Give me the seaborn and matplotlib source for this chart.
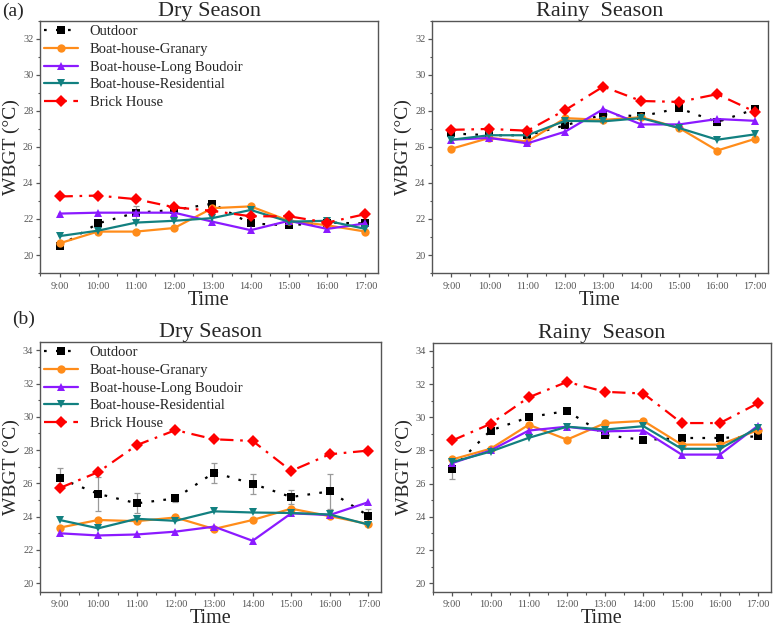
#!/usr/bin/env python3
"""WBGT diurnal profiles, dry vs rainy season, for outdoor and four dwelling types."""

import matplotlib

matplotlib.use("Agg")
import matplotlib.pyplot as plt
from matplotlib.ticker import MultipleLocator
import pandas as pd
import seaborn as sns

hours = [9, 10, 11, 12, 13, 14, 15, 16, 17]
hour_labels = [f"{h}:00" for h in hours]
sites = [
    "Outdoor",
    "Boat-house-Granary",
    "Boat-house-Long Boudoir",
    "Boat-house-Residential",
    "Brick House",
]

# (a) dry season
a_dry_outdoor = [20.5, 21.75, 22.35, 22.5, 22.85, 21.75, 21.65, 21.8, 21.75]
a_dry_granary = [20.65, 21.3, 21.3, 21.5, 22.6, 22.7, 21.9, 21.65, 21.3]
a_dry_boudoir = [22.3, 22.35, 22.35, 22.35, 21.85, 21.38, 21.9, 21.45, 21.75]
a_dry_resid = [21.05, 21.35, 21.8, 21.9, 22.05, 22.5, 21.85, 21.9, 21.45]
a_dry_brick = [23.25, 23.3, 23.1, 22.65, 22.45, 22.15, 22.15, 21.8, 22.27]
a_dry_err = [0.1, 0.15, 0.35, 0.15, 0.1, 0.1, 0.1, 0.1, 0.1]

# (a) rainy season
a_wet_outdoor = [26.75, 26.65, 26.65, 27.2, 27.8, 27.7, 28.15, 27.38, 28.1]
a_wet_granary = [25.9, 26.5, 26.3, 27.6, 27.5, 27.65, 27.05, 25.8, 26.45]
a_wet_boudoir = [26.4, 26.5, 26.2, 26.85, 28.1, 27.25, 27.25, 27.55, 27.45]
a_wet_resid = [26.4, 26.65, 26.65, 27.45, 27.42, 27.6, 27.05, 26.4, 26.7]
a_wet_brick = [26.95, 27.0, 26.9, 28.05, 29.35, 28.55, 28.5, 28.93, 27.95]
a_wet_err = [0.15, 0.1, 0.1, 0.15, 0.2, 0.1, 0.1, 0.15, 0.1]

# (b) dry season
b_dry_outdoor = [26.3, 25.37, 24.8, 25.1, 26.65, 25.98, 25.18, 25.52, 24.05]
b_dry_granary = [23.34, 23.8, 23.73, 23.95, 23.26, 23.8, 24.48, 24.03, 23.56]
b_dry_boudoir = [23.0, 22.87, 22.93, 23.1, 23.4, 22.55, 24.2, 24.1, 24.87]
b_dry_resid = [23.8, 23.3, 23.87, 23.75, 24.32, 24.25, 24.22, 24.13, 23.52]
b_dry_brick = [25.72, 26.68, 28.3, 29.2, 28.65, 28.55, 26.75, 27.75, 27.97]
b_dry_err = [0.6, 1.0, 0.6, 0.2, 0.6, 0.6, 0.42, 1.05, 0.4]

# (b) rainy season
b_wet_outdoor = [26.9, 29.2, 30.0, 30.38, 28.93, 28.63, 28.75, 28.75, 28.85]
b_wet_granary = [27.46, 28.1, 29.55, 28.65, 29.65, 29.78, 28.35, 28.35, 29.23]
b_wet_boudoir = [27.24, 28.0, 29.2, 29.43, 29.15, 29.2, 27.75, 27.75, 29.5]
b_wet_resid = [27.3, 27.93, 28.76, 29.43, 29.26, 29.46, 28.1, 28.1, 29.38]
b_wet_brick = [28.6, 29.6, 31.2, 32.13, 31.53, 31.43, 29.65, 29.65, 30.85]
b_wet_err = [0.65, 0.1, 0.1, 0.1, 0.1, 0.1, 0.1, 0.1, 0.1]

palette = {
    "Outdoor": "#000000",
    "Boat-house-Granary": "#FF8C1A",
    "Boat-house-Long Boudoir": "#8B1AFF",
    "Boat-house-Residential": "#128080",
    "Brick House": "#FF0000",
}
markers = {
    "Outdoor": "s",
    "Boat-house-Granary": "o",
    "Boat-house-Long Boudoir": "^",
    "Boat-house-Residential": "v",
    "Brick House": "D",
}
dashes = {
    "Outdoor": (1.2, 4.2),
    "Boat-house-Granary": "",
    "Boat-house-Long Boudoir": "",
    "Boat-house-Residential": "",
    "Brick House": (6, 3, 1.2, 3),
}

panels = [
    ("Dry Season", [a_dry_outdoor, a_dry_granary, a_dry_boudoir, a_dry_resid, a_dry_brick], a_dry_err, (19, 33), 20, 32),
    ("Rainy  Season", [a_wet_outdoor, a_wet_granary, a_wet_boudoir, a_wet_resid, a_wet_brick], a_wet_err, (19, 33), 20, 32),
    ("Dry Season", [b_dry_outdoor, b_dry_granary, b_dry_boudoir, b_dry_resid, b_dry_brick], b_dry_err, (19.5, 34.5), 20, 34),
    ("Rainy  Season", [b_wet_outdoor, b_wet_granary, b_wet_boudoir, b_wet_resid, b_wet_brick], b_wet_err, (19.5, 34.5), 20, 34),
]
axes_pos = [
    [0.0515, 0.568, 0.435, 0.399],
    [0.556, 0.568, 0.432, 0.399],
    [0.0515, 0.064, 0.439, 0.395],
    [0.557, 0.064, 0.435, 0.394],
]

sns.set_style("ticks")
plt.rcParams["font.family"] = ["Liberation Serif", "DejaVu Serif"]

fig = plt.figure(figsize=(7.77, 6.32), dpi=100)
frame = "#555555"

for i, (title, series, err, ylim, ylo, yhi) in enumerate(panels):
    ax = fig.add_axes(axes_pos[i])
    df = pd.concat(
        [pd.DataFrame({"hour": hours, "WBGT": vals, "site": name}) for name, vals in zip(sites, series)],
        ignore_index=True,
    )
    ax.errorbar(hours, series[0], yerr=err, fmt="none", ecolor="#9a9a9a", elinewidth=0.9, capsize=2.5, capthick=0.9, zorder=1)
    sns.lineplot(
        data=df, x="hour", y="WBGT", hue="site", style="site",
        palette=palette, markers=markers, dashes=dashes,
        hue_order=sites, style_order=sites,
        linewidth=1.6, markersize=6, markeredgewidth=0,
        legend=(i % 2 == 0), ax=ax, zorder=3,
    )
    ax.set_xlim(8.49, 17.33)
    ax.set_ylim(*ylim)
    ax.set_xticks(hours)
    ax.set_xticklabels(hour_labels)
    ax.xaxis.set_minor_locator(MultipleLocator(0.5))
    ax.set_yticks(list(range(ylo, yhi + 1, 2)))
    ax.yaxis.set_minor_locator(MultipleLocator(1))
    ax.tick_params(axis="both", which="major", direction="out", length=2.8, width=0.9, color=frame, labelsize=7.5, labelcolor="#555555")
    ax.tick_params(axis="both", which="minor", direction="out", length=1.8, width=0.8, color=frame)
    ax.tick_params(axis="x", pad=3.5)
    ax.tick_params(axis="y", pad=2)
    for sp in ax.spines.values():
        sp.set_color(frame)
        sp.set_linewidth(1.0)
    ax.set_title(title, fontsize=16, pad=3)
    ax.set_xlabel("Time", fontsize=14.5, labelpad=0)
    ax.set_ylabel("WBGT (°C)", fontsize=14, labelpad=2)
    if i % 2 == 0:
        ax.legend(
            loc="upper left", frameon=False, fontsize=10.5, handlelength=2.3,
            labelspacing=0.3, borderaxespad=0.1, borderpad=0.2, handletextpad=0.8, title=None,
        )

fig.text(0.003, 0.975, "(a)", fontsize=14)
fig.text(0.015, 0.487, "(b)", fontsize=14)

fig.savefig("out.png", dpi=100)
